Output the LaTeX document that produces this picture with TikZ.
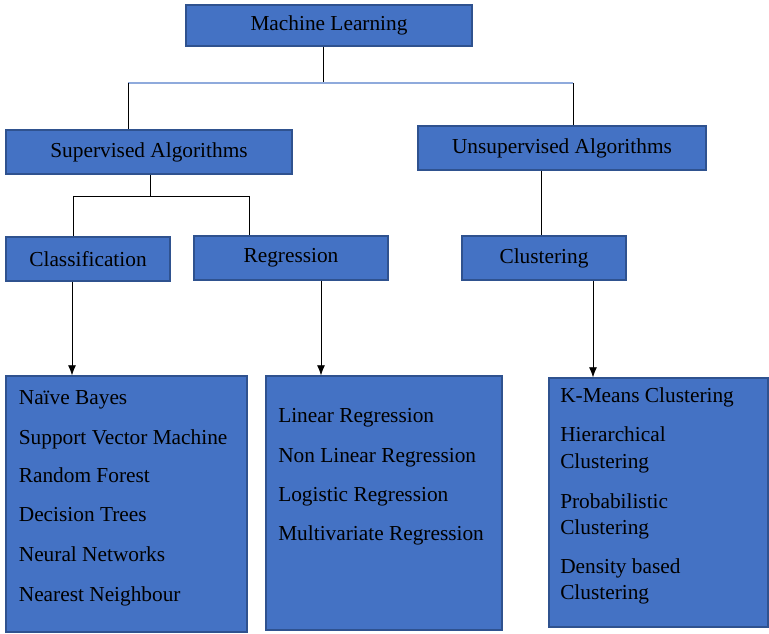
\documentclass[tikz,border=0pt]{standalone}
\usepackage{fontspec}
\setmainfont{Liberation Serif}
\usetikzlibrary{arrows.meta}
\definecolor{boxblue}{HTML}{4472C4}
\definecolor{boxedge}{HTML}{2F528F}
\definecolor{linkblue}{HTML}{8FAADC}

\begin{document}
\begin{tikzpicture}[x=0.75pt, y=-0.75pt,
    box/.style={draw=boxedge, fill=boxblue, line width=1pt, inner sep=0pt,
      font=\fontsize{16}{19}\selectfont},
    item/.style={anchor=base west, inner sep=0pt, font=\fontsize{16}{19}\selectfont},
    link/.style={black, line width=0.6pt},
    arr/.style={link, -{Latex[length=7.5pt, width=6pt]}}]
  \useasboundingbox (0,0) rectangle (769,634);
  % top levels
  \node[box, minimum width=214.5pt, minimum height=30.75pt] (ml) at (329,25.5) {Machine Learning};
  \node[box, minimum width=214.5pt, minimum height=33pt] (sup) at (149,152) {Supervised Algorithms};
  \node[box, minimum width=216pt, minimum height=33pt] (unsup) at (562,148) {Unsupervised Algorithms};
  \node[box, minimum width=123pt, minimum height=33pt] (cls) at (88,259) {Classification};
  \node[box, minimum width=145.5pt, minimum height=33pt] (reg) at (291,258) {Regression};
  \node[box, minimum width=123pt, minimum height=33pt] (clu) at (544,258) {Clustering};
  % lists
  \node[box, minimum width=180.75pt, minimum height=192pt] (listA) at (126.5,504) {};
  \node[box, minimum width=177pt, minimum height=190.5pt] (listB) at (384,503) {};
  \node[box, minimum width=164.25pt, minimum height=186.75pt] (listC) at (658.5,502.5) {};
  \foreach \y/\t [count=\i] in {405/Naïve Bayes, 445/Support Vector Machine, 483/Random Forest,
      522/Decision Trees, 562/Neural Networks, 602/Nearest Neighbour}
    \node[item] (a\i) at (18.6,\y) {\t};
  \foreach \y/\t [count=\i] in {423/Linear Regression, 463/Non Linear Regression,
      502/Logistic Regression, 541/Multivariate Regression}
    \node[item] (b\i) at (278,\y) {\t};
  \foreach \y/\t [count=\i] in {403/K-Means Clustering, 442/Hierarchical, 469/Clustering,
      509/Probabilistic, 535/Clustering, 574/Density based, 600/Clustering}
    \node[item] (c\i) at (560,\y) {\t};
  % connectors
  \coordinate (mlj) at (323,83);
  \coordinate (supj) at (128,83);
  \coordinate (unsj) at (573,83);
  \coordinate (sj) at (150,196);
  \coordinate (clsj) at (73,196);
  \coordinate (regj) at (249,196);
  \coordinate (cux) at (541,0);
  \coordinate (ca) at (72,0);
  \coordinate (rb) at (321,0);
  \coordinate (cc) at (593,0);
  \draw[link] (ml.south -| mlj) -- (mlj);
  \draw[linkblue, line width=1pt] (supj) -- (unsj);
  \draw[link] (supj) -- (supj |- sup.north);
  \draw[link] (unsj) -- (unsj |- unsup.north);
  \draw[link] (sup.south -| sj) -- (sj);
  \draw[link] (clsj) -- (regj);
  \draw[link] (clsj) -- (clsj |- cls.north);
  \draw[link] (regj) -- (regj |- reg.north);
  \draw[link] (unsup.south -| cux) -- (clu.north -| cux);
  \draw[arr] (cls.south -| ca) -- (listA.north -| ca);
  \draw[arr] (reg.south -| rb) -- (listB.north -| rb);
  \draw[arr] (clu.south -| cc) -- (listC.north -| cc);
\end{tikzpicture}
\end{document}
